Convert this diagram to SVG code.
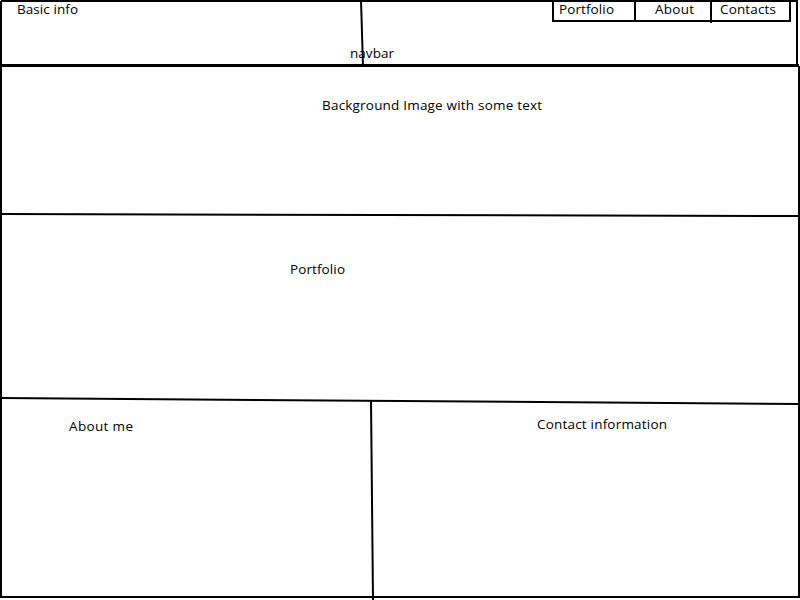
<svg xmlns="http://www.w3.org/2000/svg" width="800" height="600" viewBox="0 0 800 600">
<style>
.ln{stroke:#000;fill:none;stroke-width:2}
.bd{stroke:#000;fill:none;stroke-width:3}
.t{font-family:"Open Sans","Liberation Sans",Arial,sans-serif;font-size:13.5px;fill:#000}
</style>
<rect width="800" height="600" fill="#fff"/>
<g id="connectors">
<line class="ln" x1="361" y1="0" x2="363" y2="66"/>
<line class="ln" x1="0" y1="214" x2="800" y2="216"/>
<line class="ln" x1="0" y1="398" x2="800" y2="404"/>
<line class="ln" x1="371" y1="401" x2="373" y2="600"/>
</g>
<g id="page">
<path class="ln" d="M1,1 H797 V66 M799,66 V597 H1 V1"/>
<line class="bd" x1="0" y1="65.5" x2="799" y2="65.5"/>
</g>
<g id="basic-info"><text class="t" x="17" y="14" textLength="61">Basic info</text></g>
<g id="navbar"><text class="t" x="350" y="58" textLength="44">navbar</text></g>
<g id="nav-menu">
<rect class="ln" x="553" y="0" width="237" height="21"/>
<line class="ln" x1="635" y1="0" x2="635" y2="21"/>
<line class="ln" x1="711" y1="0" x2="711" y2="23"/>
<text class="t" x="559" y="14" textLength="55">Portfolio</text>
<text class="t" x="655" y="14" textLength="39">About</text>
<text class="t" x="720" y="14" textLength="56">Contacts</text>
</g>
<g id="hero"><text class="t" x="322" y="110" textLength="220">Background Image with some text</text></g>
<g id="portfolio"><text class="t" x="290" y="274" textLength="55">Portfolio</text></g>
<g id="about"><text class="t" x="69" y="431" textLength="64">About me</text></g>
<g id="contact"><text class="t" x="537" y="429" textLength="130">Contact information</text></g>
</svg>
